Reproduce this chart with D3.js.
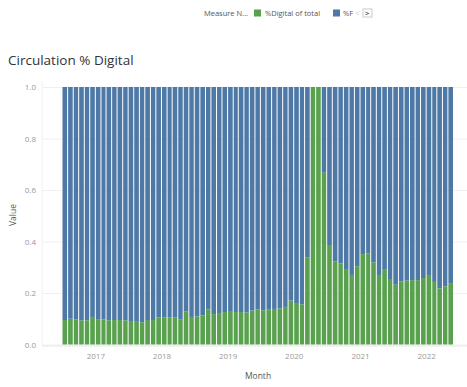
<!DOCTYPE html>
<html>
<head>
<meta charset="utf-8">
<script src="https://cdn.jsdelivr.net/npm/d3@7"></script>
<style>
  body { margin: 0; background: #fff; }
  text { font-family: "Open Sans", sans-serif; }
</style>
</head>
<body>
<svg id="chart"></svg>
<script>
const width = 467;
const height = 387;

// one bar per month, Jul 2016 .. May 2022
const months = [
    "2016-07", "2016-08", "2016-09", "2016-10", "2016-11", "2016-12",
    "2017-01", "2017-02", "2017-03", "2017-04", "2017-05", "2017-06", "2017-07", "2017-08", "2017-09", "2017-10", "2017-11", "2017-12",
    "2018-01", "2018-02", "2018-03", "2018-04", "2018-05", "2018-06", "2018-07", "2018-08", "2018-09", "2018-10", "2018-11", "2018-12",
    "2019-01", "2019-02", "2019-03", "2019-04", "2019-05", "2019-06", "2019-07", "2019-08", "2019-09", "2019-10", "2019-11", "2019-12",
    "2020-01", "2020-02", "2020-03", "2020-04", "2020-05", "2020-06", "2020-07", "2020-08", "2020-09", "2020-10", "2020-11", "2020-12",
    "2021-01", "2021-02", "2021-03", "2021-04", "2021-05", "2021-06", "2021-07", "2021-08", "2021-09", "2021-10", "2021-11", "2021-12",
    "2022-01", "2022-02", "2022-03", "2022-04", "2022-05"
];

const digitalShare = [
    0.095, 0.100, 0.097, 0.094, 0.094, 0.107,
    0.096, 0.097, 0.094, 0.095, 0.095, 0.094, 0.091, 0.088, 0.086, 0.095, 0.095, 0.105,
    0.106, 0.106, 0.105, 0.098, 0.129, 0.107, 0.109, 0.113, 0.136, 0.118, 0.122, 0.126,
    0.130, 0.126, 0.126, 0.124, 0.132, 0.136, 0.133, 0.137, 0.138, 0.140, 0.146, 0.171,
    0.161, 0.156, 0.339, 1.000, 1.000, 0.667, 0.383, 0.322, 0.315, 0.293, 0.270, 0.304,
    0.351, 0.354, 0.319, 0.270, 0.293, 0.251, 0.232, 0.245, 0.248, 0.250, 0.250, 0.258,
    0.270, 0.243, 0.218, 0.226, 0.236
];

const printShare = [
    0.905, 0.900, 0.903, 0.906, 0.906, 0.893,
    0.904, 0.903, 0.906, 0.905, 0.905, 0.906, 0.909, 0.912, 0.914, 0.905, 0.905, 0.895,
    0.894, 0.894, 0.895, 0.902, 0.871, 0.893, 0.891, 0.887, 0.864, 0.882, 0.878, 0.874,
    0.870, 0.874, 0.874, 0.876, 0.868, 0.864, 0.867, 0.863, 0.862, 0.860, 0.854, 0.829,
    0.839, 0.844, 0.661, 0.000, 0.000, 0.333, 0.617, 0.678, 0.685, 0.707, 0.730, 0.696,
    0.649, 0.646, 0.681, 0.730, 0.707, 0.749, 0.768, 0.755, 0.752, 0.750, 0.750, 0.742,
    0.730, 0.757, 0.782, 0.774, 0.764
];

const seriesKeys = ["digital", "print"];
const seriesColors = ["#59a14f", "#4e79a7"];
const yTicks = [0, 0.2, 0.4, 0.6, 0.8, 1.0];
const yearTicks = ["2017-01", "2018-01", "2019-01", "2020-01", "2021-01", "2022-01"];

const parseMonth = d3.timeParse("%Y-%m");

const rows = months.map((m, i) => ({
    month: parseMonth(m),
    digital: digitalShare[i],
    print: printShare[i]
}));

const svg = d3.select("#chart")
    .attr("width", width)
    .attr("height", height);

const paneLeft = 42;
const paneRight = 467;

const x = d3.scaleTime()
    .domain([parseMonth("2016-07"), parseMonth("2022-06")])
    .range([62, 453.5]);

const y = d3.scaleLinear()
    .domain([0, 1])
    .range([344.5, 87]);

// title
svg.append("text")
    .attr("x", 8)
    .attr("y", 65)
    .attr("font-size", 13.5)
    .attr("fill", "#333")
    .text("Circulation % Digital");

// gridlines + y labels
const yAxis = svg.append("g")
    .attr("transform", `translate(${paneLeft},0)`)
    .call(d3.axisLeft(y)
        .tickValues(yTicks)
        .tickFormat(d3.format(".1f"))
        .tickSize(-(paneRight - paneLeft))
        .tickPadding(6));
yAxis.select(".domain").remove();
yAxis.selectAll(".tick line").attr("stroke", "#f0f0f0");
yAxis.selectAll(".tick text")
    .attr("fill", "#999")
    .attr("font-size", 8)
    .attr("font-family", "Open Sans, sans-serif");

// stacked bars
const stacked = d3.stack().keys(seriesKeys)(rows);

svg.append("g")
    .selectAll("g")
    .data(stacked)
    .join("g")
    .attr("fill", (d, i) => seriesColors[i])
    .selectAll("rect")
    .data(d => d)
    .join("rect")
    .attr("x", d => x(d.data.month) + 0.5)
    .attr("width", d => x(d3.timeMonth.offset(d.data.month, 1)) - x(d.data.month) - 1)
    .attr("y", d => y(d[1]))
    .attr("height", d => y(d[0]) - y(d[1]));

// x axis
const xAxis = svg.append("g")
    .attr("transform", "translate(0,346)")
    .call(d3.axisBottom(x)
        .tickValues(yearTicks.map(parseMonth))
        .tickFormat(d3.timeFormat("%Y"))
        .tickSize(0)
        .tickPadding(7));
xAxis.select(".domain").remove();
xAxis.selectAll(".tick text")
    .attr("fill", "#999")
    .attr("font-size", 8)
    .attr("font-family", "Open Sans, sans-serif");

svg.append("line")
    .attr("x1", paneLeft)
    .attr("x2", paneRight)
    .attr("y1", 346)
    .attr("y2", 346)
    .attr("stroke", "#e6e6e6");

svg.append("line")
    .attr("x1", paneLeft)
    .attr("x2", paneLeft)
    .attr("y1", 82)
    .attr("y2", 346)
    .attr("stroke", "#f0f0f0");

// axis titles
svg.append("text")
    .attr("transform", "translate(16,215) rotate(-90)")
    .attr("text-anchor", "middle")
    .attr("font-size", 8.5)
    .attr("fill", "#555")
    .text("Value");

svg.append("text")
    .attr("x", 258)
    .attr("y", 379)
    .attr("text-anchor", "middle")
    .attr("font-size", 8.5)
    .attr("fill", "#555")
    .text("Month");

// legend
const legend = svg.append("g").attr("font-size", 7.5).attr("fill", "#555");
legend.append("text").attr("x", 204).attr("y", 16).text("Measure N...");
legend.append("rect").attr("x", 254).attr("y", 9.5).attr("width", 7).attr("height", 7).attr("fill", seriesColors[0]);
legend.append("text").attr("x", 265).attr("y", 16).text("%Digital of total");
legend.append("rect").attr("x", 333).attr("y", 9.5).attr("width", 7).attr("height", 7).attr("fill", seriesColors[1]);
legend.append("text").attr("x", 343).attr("y", 16).text("%F");

legend.append("text").attr("x", 355).attr("y", 16).attr("fill", "#ccc").text("<");
legend.append("rect").attr("x", 363).attr("y", 9).attr("width", 9).attr("height", 8)
    .attr("fill", "#fff").attr("stroke", "#ccc");
legend.append("text").attr("x", 365).attr("y", 16).attr("fill", "#555").attr("font-weight", "bold").text(">");
</script>
</body>
</html>
